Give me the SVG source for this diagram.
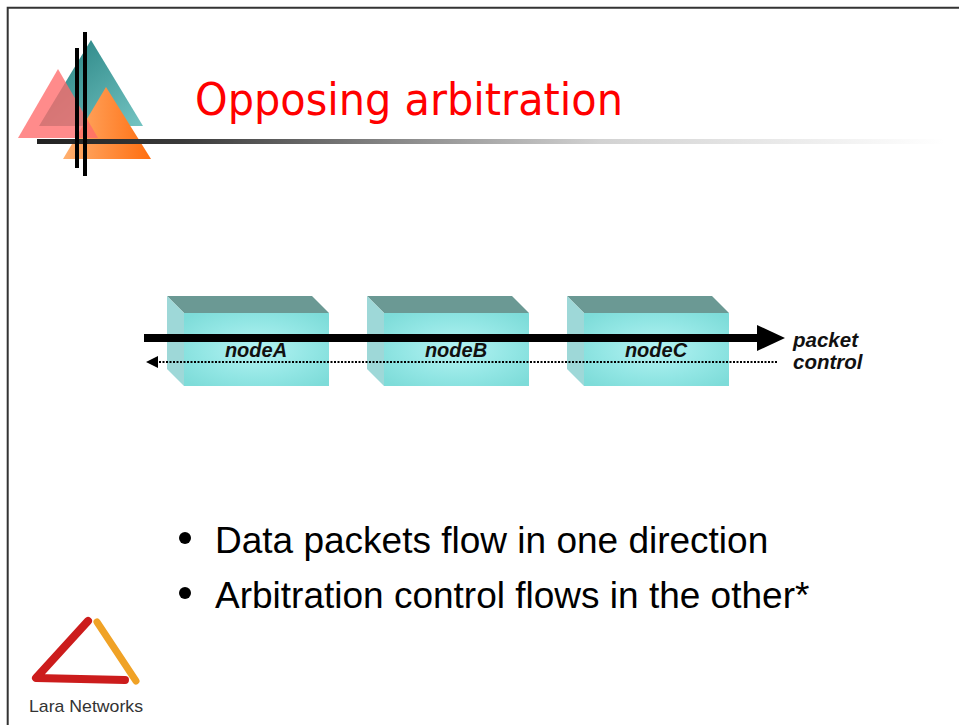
<svg xmlns="http://www.w3.org/2000/svg" width="959" height="725" viewBox="0 0 959 725">
  <defs>
    <style>
      .top { fill: #6b9994; }
      .side { fill: #9ed8d8; }
      .front { fill: url(#frontGrad); }
      .nodeLabel { font-family: "Liberation Sans", Arial, sans-serif; font-size: 20px; font-weight: bold; font-style: italic; fill: #111; text-anchor: middle; }
      .flowLabel { font-family: "Liberation Sans", Arial, sans-serif; font-size: 20.5px; font-weight: bold; font-style: italic; fill: #111; }
      .bullet { font-family: "Liberation Sans", Arial, sans-serif; font-size: 37px; fill: #000; }
    </style>
    <radialGradient id="frontGrad" cx="0.5" cy="0.5" r="0.65">
      <stop offset="0" stop-color="#b4f3f3"/>
      <stop offset="0.6" stop-color="#92e6e4"/>
      <stop offset="1" stop-color="#7edcd9"/>
    </radialGradient>
    <linearGradient id="ruleGrad" x1="0" y1="0" x2="1" y2="0">
      <stop offset="0" stop-color="#222"/>
      <stop offset="0.16" stop-color="#3a3a3a"/>
      <stop offset="0.62" stop-color="#d2d2d2"/>
      <stop offset="1" stop-color="#fff"/>
    </linearGradient>
    <linearGradient id="tealGrad" x1="0" y1="0" x2="1" y2="1">
      <stop offset="0" stop-color="#1f7c7c"/>
      <stop offset="1" stop-color="#74c4c2"/>
    </linearGradient>
    <linearGradient id="orangeGrad" x1="0" y1="0" x2="1" y2="0">
      <stop offset="0" stop-color="#ffb070"/>
      <stop offset="1" stop-color="#ff6e10"/>
    </linearGradient>
  </defs>

  <rect width="959" height="725" fill="#fff"/>

  <!-- slide frame -->
  <path d="M7.7,725 V7.7 H959" fill="none" stroke="#333" stroke-width="2"/>

  <!-- header emblem -->
  <g id="emblem">
    <polygon points="91,40 143,126 39,126" fill="url(#tealGrad)"/>
    <polygon points="106,87 151,159 63,159" fill="url(#orangeGrad)"/>
    <polygon points="58,69 98,138 18,138" fill="#ff6a6a" opacity="0.78"/>
    <rect x="37" y="139" width="908" height="5" fill="url(#ruleGrad)"/>
    <rect x="75" y="48" width="4" height="120" fill="#000"/>
    <rect x="83" y="32" width="4" height="144" fill="#000"/>
  </g>

  <text x="195" y="115" font-family="DejaVu Sans, Verdana, sans-serif" font-size="44" fill="#ff0000" textLength="428" lengthAdjust="spacingAndGlyphs">Opposing arbitration</text>

  <!-- nodes -->
  <g id="nodeA">
    <polygon class="top" points="167,296 312,296 329,313 184,313"/>
    <polygon class="side" points="167,296 184,313 184,386 167,369"/>
    <rect class="front" x="184" y="313" width="145" height="73"/>
  </g>
  <g id="nodeB">
    <polygon class="top" points="367,296 512,296 529,313 384,313"/>
    <polygon class="side" points="367,296 384,313 384,386 367,369"/>
    <rect class="front" x="384" y="313" width="145" height="73"/>
  </g>
  <g id="nodeC">
    <polygon class="top" points="567,296 712,296 729,313 584,313"/>
    <polygon class="side" points="567,296 584,313 584,386 567,369"/>
    <rect class="front" x="584" y="313" width="145" height="73"/>
  </g>

  <!-- connectors: packet flow (right) and control flow (left) -->
  <g id="connectors">
    <rect x="144" y="334" width="614" height="8" fill="#000"/>
    <polygon points="757,325 785,338 757,351" fill="#000"/>
    <line x1="777" y1="362" x2="157" y2="362" stroke="#000" stroke-width="2" stroke-dasharray="2 1.5"/>
    <polygon points="146,362 158,356 158,368" fill="#000"/>
  </g>

  <text class="nodeLabel" x="256" y="357">nodeA</text>
  <text class="nodeLabel" x="456" y="357">nodeB</text>
  <text class="nodeLabel" x="656" y="357">nodeC</text>
  <text class="flowLabel" x="793" y="347">packet</text>
  <text class="flowLabel" x="793" y="369">control</text>

  <!-- bullets -->
  <circle cx="185" cy="538" r="6" fill="#000"/>
  <text class="bullet" x="215" y="553">Data packets flow in one direction</text>
  <circle cx="185" cy="593" r="6" fill="#000"/>
  <text class="bullet" x="215" y="608">Arbitration control flows in the other*</text>

  <!-- company logo -->
  <g id="logo">
    <polyline points="88,621 36,678 125,680" fill="none" stroke="#cc1c1c" stroke-width="8" stroke-linecap="round" stroke-linejoin="round"/>
    <line x1="97" y1="622" x2="136" y2="681" stroke="#f0a226" stroke-width="7" stroke-linecap="round"/>
    <text x="29" y="712" font-family="Liberation Sans, Arial, sans-serif" font-size="17" fill="#333" textLength="114" lengthAdjust="spacingAndGlyphs">Lara Networks</text>
  </g>
</svg>
